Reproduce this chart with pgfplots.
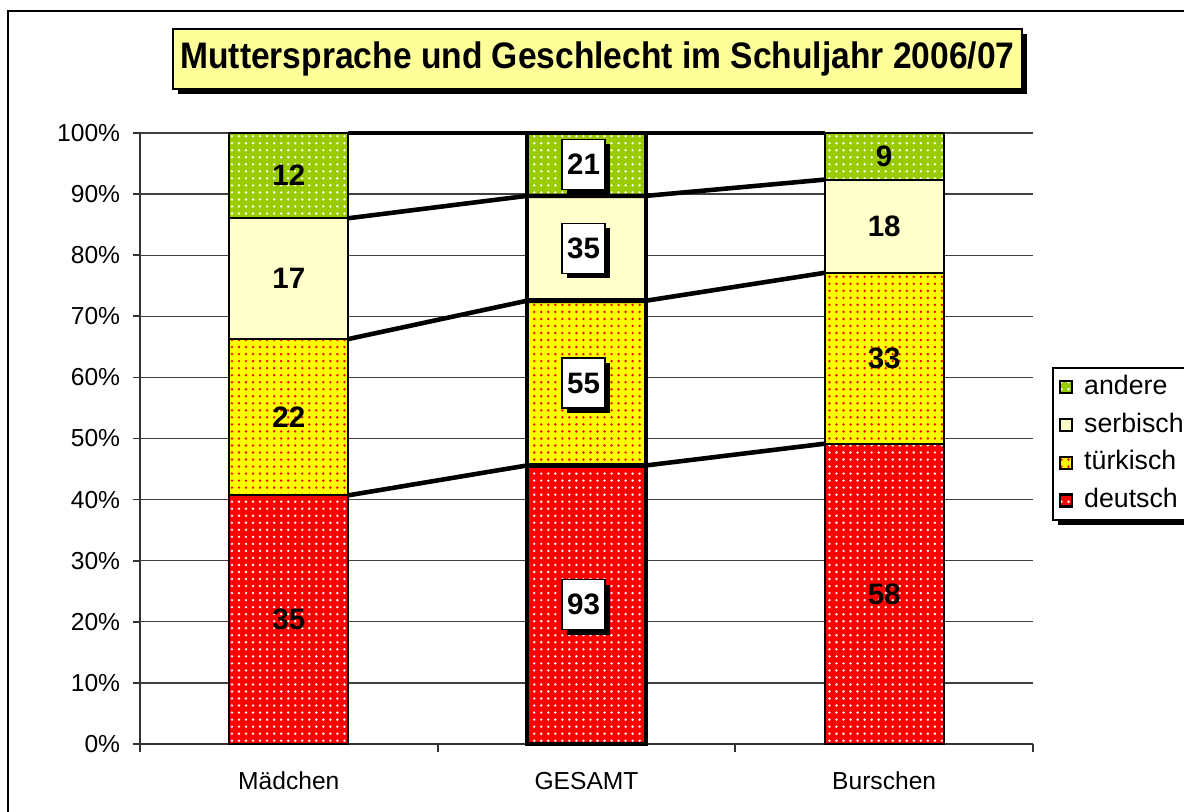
\documentclass[border=0pt]{standalone}
\usepackage{fontspec}
\setmainfont{Liberation Sans}
\usepackage{pgfplots}
\usepackage{pgfplotstable}
\pgfplotsset{compat=1.18}
\usetikzlibrary{patterns.meta,shadows}

\definecolor{xred}{HTML}{FF0000}
\definecolor{xyellow}{HTML}{FFFF00}
\definecolor{xcream}{HTML}{FFFFCC}
\definecolor{xgreen}{HTML}{99CC00}
\definecolor{titlefill}{HTML}{FFFF99}

\makeatletter
\tikzset{no preactions/.code={\let\tikz@preactions\pgfutil@empty}}
\makeatother

% Schueler nach Muttersprache: deutsch, tuerkisch, serbisch, andere
\pgfplotstableread{
x d  t  s  a
0 35 22 17 12
1 93 55 35 21
2 58 33 18 9
}\schueler

\newcommand{\tot}{(\thisrow{d}+\thisrow{t}+\thisrow{s}+\thisrow{a})}

\pgfplotsset{
  seg/.style={ybar, bar width=0.4, bar shift=0pt, draw=black, line width=0.6pt},
  segG/.style={ybar, bar width=0.4, bar shift=0pt, draw=black, line width=1.3pt,
    forget plot, skip coords between index={0}{1}, skip coords between index={2}{3}},
  segMB/.style={seg, skip coords between index={1}{2}},
  % Maedchen/Burschen (und Legende): Fuellung, Punkte als postaction
  dotfill/.style 2 args={fill=#1,
    postaction={pattern={Dots[distance=2pt, radius=0.38pt]}, pattern color=#2}},
  % GESAMT: Fuellung als preaction, damit der dicke Rand obenauf liegt
  dotfillG/.style 2 args={preaction={fill=#1},
    pattern={Dots[distance=2pt, radius=0.38pt]}, pattern color=#2},
  lbl/.style={draw=none, mark=none, forget plot, point meta=explicit symbolic,
    nodes near coords={\pgfplotspointmeta}, nodes near coords align={center},
    every node near coord/.append style={font=\fontsize{8.4}{9}\selectfont\bfseries,
      text=black}},
  lblMB/.style={lbl, skip coords between index={1}{2}},
  lblG/.style={lbl, skip coords between index={0}{1}, skip coords between index={2}{3},
    every node near coord/.append style={draw=black, fill=white, line width=0.4pt,
      minimum width=0.43cm, minimum height=0.5cm, inner sep=0pt, xshift=-0.03cm,
      drop shadow={fill=black, opacity=1, shadow xshift=0.05cm, shadow yshift=-0.05cm}}},
}

\begin{document}
\begin{tikzpicture}
\begin{axis}[
  at={(1.40cm,0.67cm)}, anchor=south west,
  scale only axis, width=8.93cm, height=6.11cm,
  xmin=-0.5, xmax=2.5, ymin=0, ymax=100,
  clip=false,
  axis x line*=bottom, axis y line*=left,
  axis line style={-, black!80, line width=0.5pt},
  xtick={-0.5,0.5,1.5,2.5}, x tick label as interval,
  xticklabels={Mädchen,GESAMT,Burschen},
  ytick={0,10,...,100},
  yticklabel={\pgfmathprintnumber[assume math mode=true]{\tick}\%},
  tick align=outside, major tick length=0.075cm,
  tick style={black!80, line width=0.5pt},
  ymajorgrids, grid style={black!75, line width=0.35pt},
  tick label style={font=\fontsize{7.0}{8}\selectfont},
  xticklabel style={yshift=-0.08cm},
  legend cell align=left,
  legend image code/.code={\draw[no preactions, #1] (0cm,-0.06cm) rectangle (0.12cm,0.06cm);
    \path (0.16cm,0cm);},
  legend style={at={(1.0213,0.617)}, anchor=north west, draw=black,
    line width=0.6pt, fill=white, font=\fontsize{7.6}{8}\selectfont,
    row sep=-0.01cm, inner xsep=0.06cm, inner ysep=0.0cm,
    drop shadow={fill=black, opacity=1, shadow xshift=0.05cm, shadow yshift=-0.05cm}},
]
% Maedchen und Burschen
\addplot[segMB, dotfill={xgreen}{white}] table[x=x, y expr={100*\tot/\tot}] {\schueler};
\addlegendentry{andere}
\addplot[segMB, fill=xcream] table[x=x, y expr={100*(\thisrow{d}+\thisrow{t}+\thisrow{s})/\tot}] {\schueler};
\addlegendentry{serbisch}
\addplot[segMB, dotfill={xyellow}{xred}] table[x=x, y expr={100*(\thisrow{d}+\thisrow{t})/\tot}] {\schueler};
\addlegendentry{türkisch}
\addplot[segMB, dotfill={xred}{white}] table[x=x, y expr={100*\thisrow{d}/\tot}] {\schueler};
\addlegendentry{deutsch}
% GESAMT
\addplot[segG, dotfillG={xgreen}{white}] table[x=x, y expr={100*\tot/\tot}] {\schueler};
\addplot[segG, fill=xcream] table[x=x, y expr={100*(\thisrow{d}+\thisrow{t}+\thisrow{s})/\tot}] {\schueler};
\addplot[segG, dotfillG={xyellow}{xred}] table[x=x, y expr={100*(\thisrow{d}+\thisrow{t})/\tot}] {\schueler};
\addplot[segG, dotfillG={xred}{white}] table[x=x, y expr={100*\thisrow{d}/\tot}] {\schueler};
% Reihenlinien
\addplot[black, line width=1.3pt, forget plot] coordinates {(0.2,40.70) (0.8,45.59) (1.2,45.59) (1.8,49.15)};
\addplot[black, line width=1.3pt, forget plot] coordinates {(0.2,66.28) (0.8,72.55) (1.2,72.55) (1.8,77.12)};
\addplot[black, line width=1.3pt, forget plot] coordinates {(0.2,86.05) (0.8,89.71) (1.2,89.71) (1.8,92.37)};
\addplot[black, line width=1.3pt, forget plot] coordinates {(0.2,100) (0.8,100) (1.2,100) (1.8,100)};
% Beschriftungen
\addplot[lblMB] table[x=x, y expr={100*\thisrow{d}/2/\tot}, meta=d] {\schueler};
\addplot[lblMB] table[x=x, y expr={100*(\thisrow{d}+\thisrow{t}/2)/\tot}, meta=t] {\schueler};
\addplot[lblMB] table[x=x, y expr={100*(\thisrow{d}+\thisrow{t}+\thisrow{s}/2)/\tot}, meta=s] {\schueler};
\addplot[lblMB] table[x=x, y expr={100*(\thisrow{d}+\thisrow{t}+\thisrow{s}+\thisrow{a}/2)/\tot}, meta=a] {\schueler};
\addplot[lblG] table[x=x, y expr={100*\thisrow{d}/2/\tot}, meta=d] {\schueler};
\addplot[lblG] table[x=x, y expr={100*(\thisrow{d}+\thisrow{t}/2)/\tot}, meta=t] {\schueler};
\addplot[lblG] table[x=x, y expr={100*(\thisrow{d}+\thisrow{t}+\thisrow{s}/2)/\tot}, meta=s] {\schueler};
\addplot[lblG] table[x=x, y expr={100*(\thisrow{d}+\thisrow{t}+\thisrow{s}+\thisrow{a}/2)/\tot}, meta=a] {\schueler};
\end{axis}
% Rahmen und Titel
\draw[black, line width=0.6pt] (0.08cm,-0.2cm) -- (0.08cm,8.00cm) -- (12.2cm,8.00cm);
\node[draw=black, fill=titlefill, line width=0.6pt, minimum width=8.49cm,
  minimum height=0.6cm, inner sep=0pt,
  drop shadow={fill=black, opacity=1, shadow xshift=0.05cm, shadow yshift=-0.05cm}]
  at (5.975cm,7.52cm)
  {\scalebox{0.91}[1]{\fontsize{10.5}{12}\selectfont\bfseries Muttersprache und Geschlecht im Schuljahr 2006/07}};
\pgfresetboundingbox
\path[use as bounding box] (0,0) rectangle (11.84cm,8.11cm);
\end{tikzpicture}
\end{document}
